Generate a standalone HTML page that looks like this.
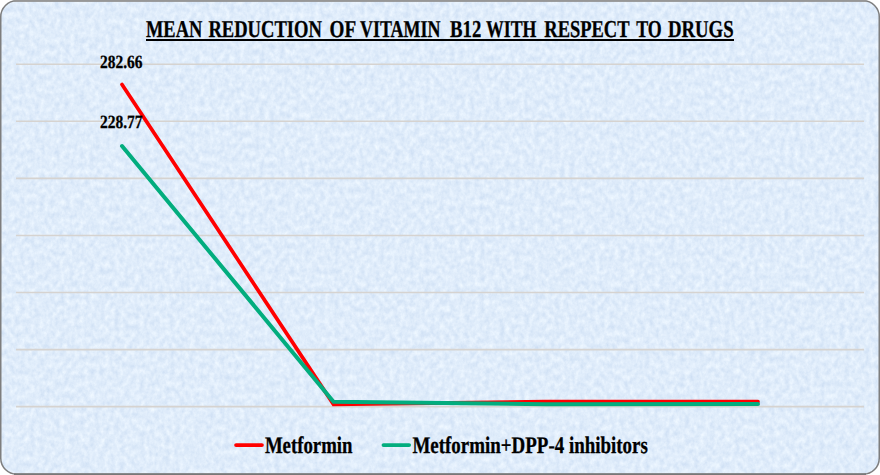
<!DOCTYPE html>
<html>
<head>
<meta charset="utf-8">
<style>
html,body{margin:0;padding:0;background:#ffffff;}
body{width:880px;height:475px;overflow:hidden;position:relative;}
svg{position:absolute;left:0;top:0;display:block;}
text{font-family:"Liberation Serif",serif;font-weight:bold;fill:#000;stroke:#000;stroke-width:0.3;text-rendering:geometricPrecision;}
</style>
</head>
<body>
<svg width="880" height="475" viewBox="0 0 880 475">
  <defs>
    <filter id="tex" x="0" y="0" width="100%" height="100%" color-interpolation-filters="sRGB">
      <feTurbulence type="fractalNoise" baseFrequency="0.2 0.16" numOctaves="4" seed="5" result="n"/>
      <feColorMatrix in="n" type="matrix" values="0.16 0 0 0 0.797  0.12 0 0 0 0.867  0.06 0 0 0 0.953  0 0 0 0 1"/>
    </filter>
    <clipPath id="frame"><rect x="0.75" y="0.75" width="878.5" height="473.5" rx="16" ry="16"/></clipPath>
  </defs>
  <!-- background -->
  <rect x="0.75" y="0.75" width="878.5" height="473.5" rx="16" ry="16" fill="#d9e7f8"/>
  <g clip-path="url(#frame)">
    <rect x="0" y="0" width="880" height="475" fill="#d9e7f8" filter="url(#tex)"/>
  </g>

  <!-- gridlines -->
  <g stroke="#d6d3d0" stroke-width="1.6">
    <line x1="16" y1="64.25" x2="864" y2="64.25"/>
    <line x1="16" y1="121.32" x2="864" y2="121.32"/>
    <line x1="16" y1="178.39" x2="864" y2="178.39"/>
    <line x1="16" y1="235.46" x2="864" y2="235.46"/>
    <line x1="16" y1="292.53" x2="864" y2="292.53"/>
    <line x1="16" y1="349.60" x2="864" y2="349.60"/>
    <line x1="16" y1="406.67" x2="864" y2="406.67"/>
  </g>

  <!-- series -->
  <polyline points="122,84.5 333.5,404.3 546,401.7 758,401.5" fill="none" stroke="#ff0000" stroke-width="3.7" stroke-linecap="round" stroke-linejoin="miter"/>
  <polyline points="122,146 333.5,401.7 546,404.2 758,404.1" fill="none" stroke="#02ad7e" stroke-width="4" stroke-linecap="round" stroke-linejoin="miter"/>

  <!-- data labels -->
  <text x="100.0" y="67.5" font-size="18.6" textLength="42.5" lengthAdjust="spacingAndGlyphs">282.66</text>
  <text x="100.0" y="128.2" font-size="18.6" textLength="42.6" lengthAdjust="spacingAndGlyphs">228.77</text>

  <!-- title -->
  <g font-size="24.2">
    <text x="146.0" y="37" textLength="56.2" lengthAdjust="spacingAndGlyphs">MEAN</text>
    <text x="208.4" y="37" textLength="113.5" lengthAdjust="spacingAndGlyphs">REDUCTION</text>
    <text x="329.6" y="37" textLength="26.6" lengthAdjust="spacingAndGlyphs">OF</text>
    <text x="359.9" y="37" textLength="80.6" lengthAdjust="spacingAndGlyphs">VITAMIN</text>
    <text x="450.1" y="37" textLength="31.2" lengthAdjust="spacingAndGlyphs">B12</text>
    <text x="486.0" y="37" textLength="50.4" lengthAdjust="spacingAndGlyphs">WITH</text>
    <text x="544.3" y="37" textLength="85.2" lengthAdjust="spacingAndGlyphs">RESPECT</text>
    <text x="636.2" y="37" textLength="25.6" lengthAdjust="spacingAndGlyphs">TO</text>
    <text x="668.0" y="37" textLength="65.6" lengthAdjust="spacingAndGlyphs">DRUGS</text>
  </g>
  <rect x="146" y="39" width="588" height="2" fill="#000"/>

  <!-- legend -->
  <line x1="236.1" y1="445.1" x2="261.9" y2="445.1" stroke="#ff0000" stroke-width="3.9" stroke-linecap="round"/>
  <text x="264.9" y="452.6" font-size="23.8" textLength="87.6" lengthAdjust="spacingAndGlyphs">Metformin</text>
  <line x1="383.5" y1="445.1" x2="409.1" y2="445.1" stroke="#02ad7e" stroke-width="3.9" stroke-linecap="round"/>
  <text x="412.45" y="452.6" font-size="23.8" textLength="235.4" lengthAdjust="spacingAndGlyphs">Metformin+DPP-4 inhibitors</text>

  <!-- border -->
  <rect x="0.75" y="0.75" width="878.5" height="473.5" rx="16" ry="16" fill="none" stroke="#7e7e7e" stroke-width="1.5"/>
  <rect x="14" y="0" width="852" height="1.8" fill="#979797"/>
  <rect x="14" y="473.3" width="852" height="1.7" fill="#787878"/>
</svg>
</body>
</html>
